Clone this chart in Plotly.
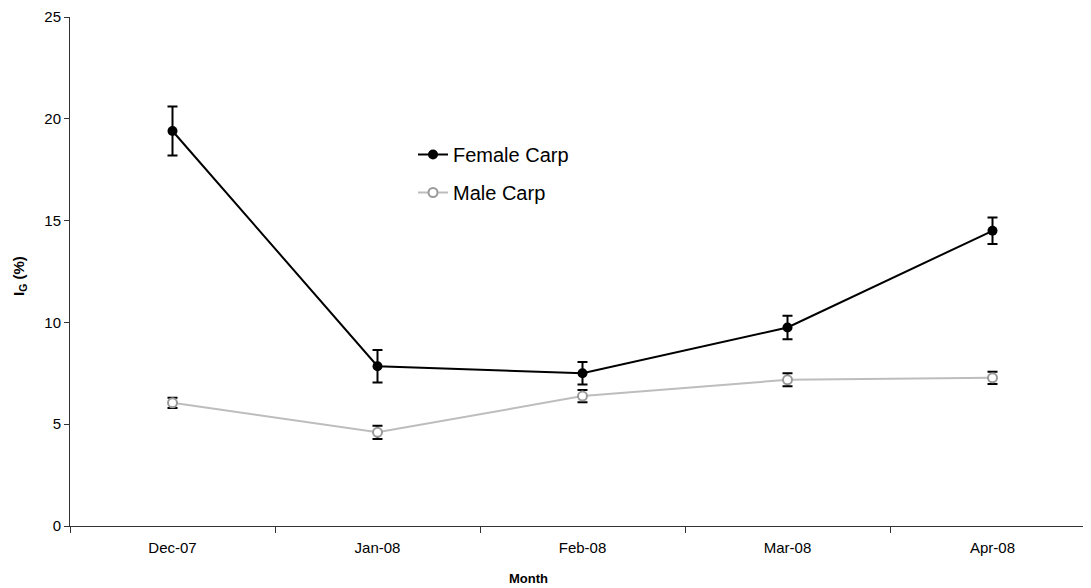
import plotly.graph_objects as go

months = ["Dec-07", "Jan-08", "Feb-08", "Mar-08", "Apr-08"]
female = [19.4, 7.85, 7.5, 9.75, 14.5]
female_err = [1.2, 0.8, 0.55, 0.58, 0.65]
male = [6.05, 4.6, 6.38, 7.18, 7.28]
male_err = [0.25, 0.33, 0.3, 0.32, 0.3]

FONT = "Arial, Liberation Sans, sans-serif"

# page has an 8px body margin; plot area: left 62, top 9, width 1021, height 509 (figure px)
W, H = 1083, 580
L, T, B = 62, 9, 62
PW, PH = W - L, H - T - B

fig = go.Figure()
fig.add_trace(go.Scatter(
    x=months, y=female, name="Female Carp", mode="lines+markers",
    legendgroup="f",
    line=dict(color="black", width=2),
    marker=dict(color="black", size=10, symbol="circle"),
    error_y=dict(type="data", array=female_err, visible=True,
                 color="black", thickness=2, width=5),
))
fig.add_trace(go.Scatter(
    x=months, y=male, name="Male Carp", mode="lines+markers",
    legendgroup="m",
    line=dict(color="#bdbdbd", width=2),
    marker=dict(color="white", size=9, symbol="circle",
                line=dict(color="#9a9a9a", width=2)),
    error_y=dict(type="data", array=male_err, visible=True,
                 color="black", thickness=2, width=5),
))

fig.update_layout(
    width=W, height=H,
    margin=dict(l=L, r=0, t=T, b=B, autoexpand=False),
    paper_bgcolor="white", plot_bgcolor="white",
    font=dict(family=FONT, size=15, color="black"),
    showlegend=True,
    legend=dict(x=(405 - L) / PW, y=(T + PH - 127) / PH, xanchor="left", yanchor="top",
                font=dict(size=20, family=FONT), bgcolor="rgba(0,0,0,0)",
                tracegroupgap=9),
    xaxis=dict(
        type="category", range=[-0.5, -0.5 + PW / 205],
        showline=True, linecolor="#333333", linewidth=1,
        ticks="outside", ticklen=6, tickcolor="#333333", tickson="boundaries",
        ticklabelstandoff=8,
        showgrid=False, zeroline=False,
        tickfont=dict(size=15),
    ),
    yaxis=dict(
        range=[0, 25], tickvals=[0, 5, 10, 15, 20, 25],
        showline=True, linecolor="#333333", linewidth=1,
        ticks="outside", ticklen=5, tickcolor="#333333",
        showgrid=False, zeroline=False,
        tickfont=dict(size=15),
    ),
    annotations=[
        dict(text="<b>Month</b>", xref="paper", yref="paper",
             x=(520 - L) / PW, y=(T + PH - 570) / PH, xanchor="center", yanchor="middle",
             showarrow=False, font=dict(size=13, family=FONT)),
        dict(text="<b>I<sub>G</sub> (%)</b>", xref="paper", yref="paper",
             x=(11 - L) / PW, y=(T + PH - 268) / PH, xanchor="center", yanchor="middle",
             textangle=-90, showarrow=False, font=dict(size=15, family=FONT)),
    ],
)

fig.write_html("out.html")
